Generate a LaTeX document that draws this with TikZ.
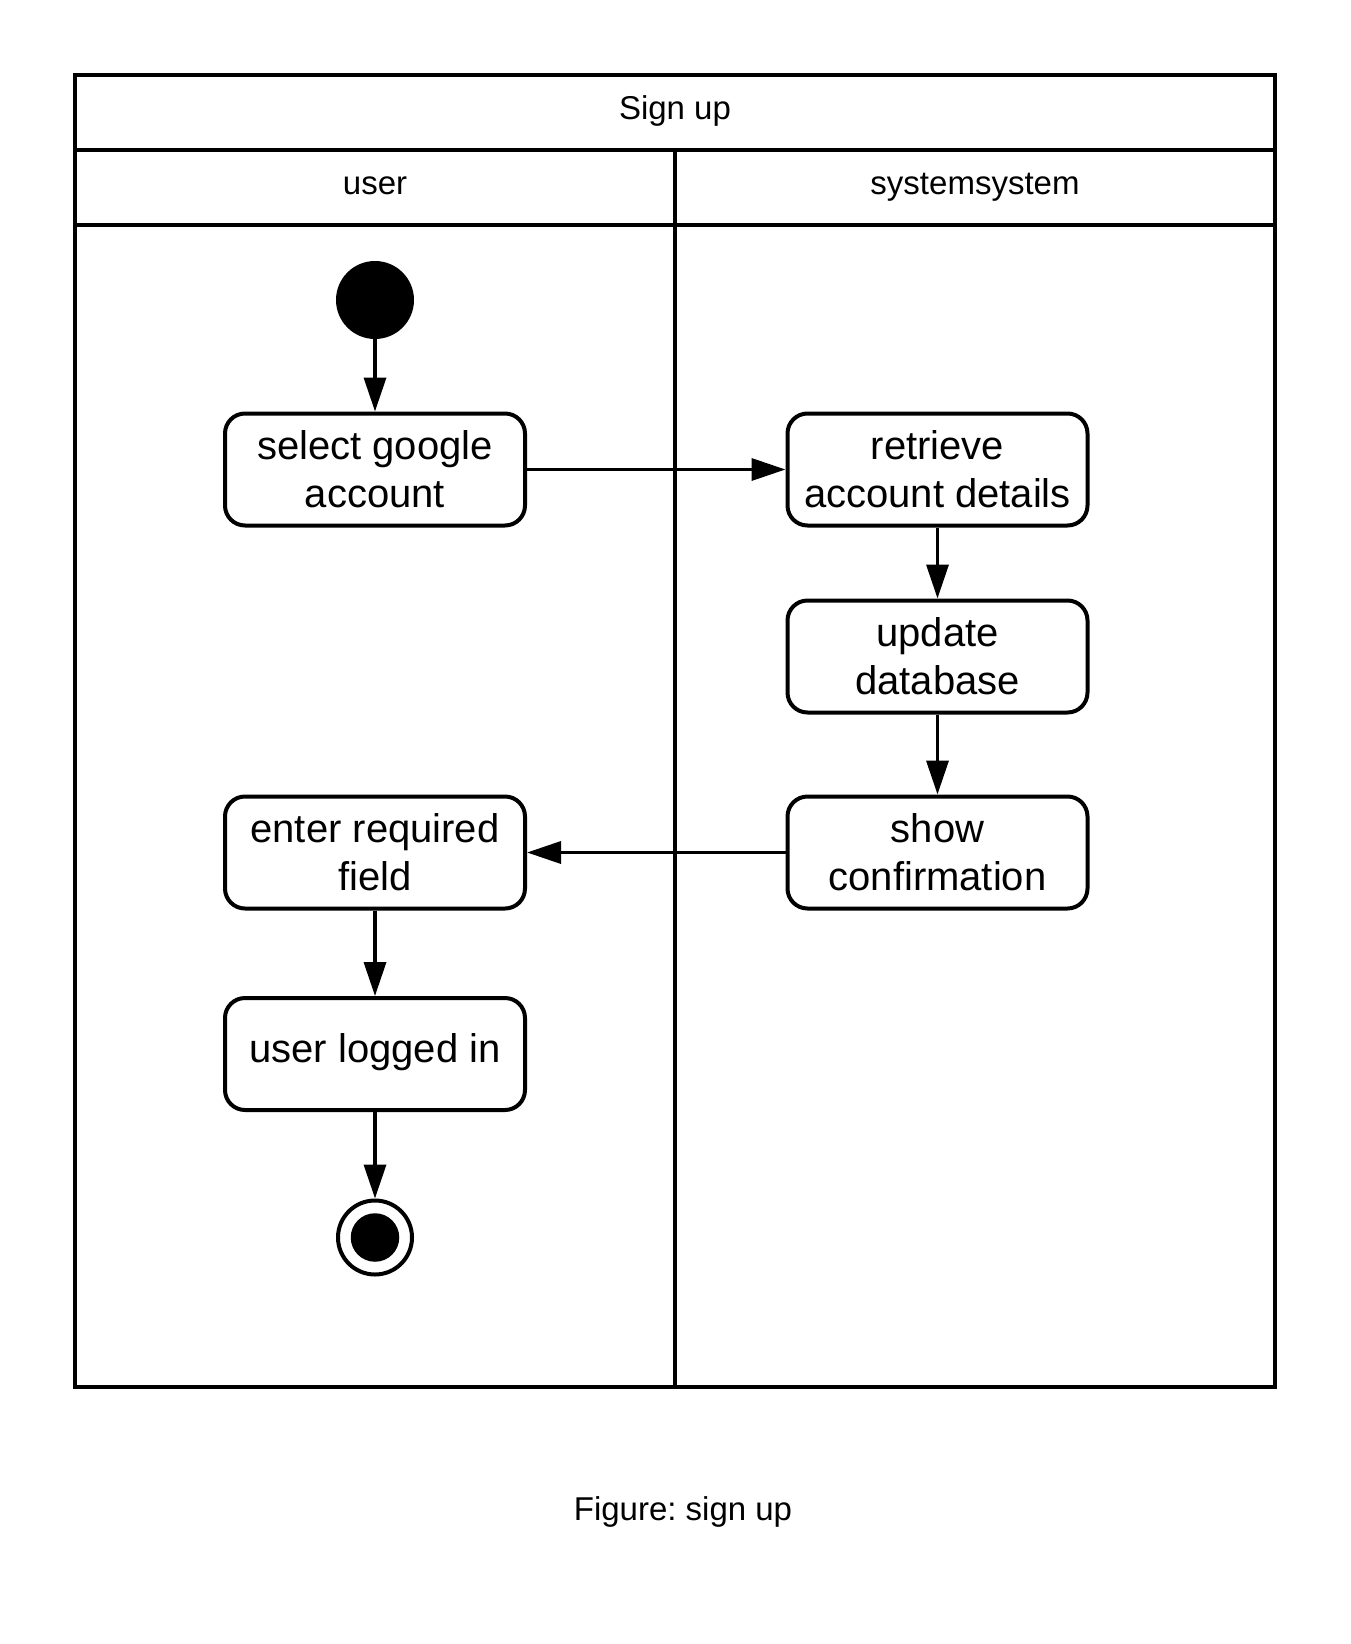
\documentclass[tikz,border=0pt]{standalone}
\usepackage{fontspec}
\setmainfont{Liberation Sans}
\usetikzlibrary{arrows.meta}
\newcommand\lstr{\rule[-10.15pt]{0pt}{48pt}}
\newcommand\sstr{\rule[-16pt]{0pt}{48pt}}
\frenchspacing
\begin{document}
\begin{tikzpicture}[x=1pt,y=-1pt,
  frameline/.style={line width=4pt},
  actbox/.style={draw, line width=4pt, rounded corners=20pt, minimum width=300pt,
    minimum height=112pt, inner sep=0pt, align=center,
    font=\fontsize{40pt}{48pt}\selectfont},
  flow/.style={line width=3.5pt, -{Triangle[length=34pt,width=22pt]}},
  hdr/.style={font=\fontsize{33pt}{40pt}\selectfont, anchor=base, inner sep=0pt}
]
\useasboundingbox (0,0) rectangle (1350,1644);
% frame and swimlanes
\draw[frameline] (75,75) rectangle (1275,1387);
\draw[frameline] (75,150) -- (1275,150);
\draw[frameline] (75,225) -- (1275,225);
\draw[frameline] (675,150) -- (675,1387);
\node[hdr] (title) at (675,119.5) {Sign up};
\node[hdr] (laneU) at (375,194.5) {user};
\node[hdr] (laneS) at (975,194.5) {systemsystem};
% nodes
\node[circle, fill=black, minimum size=78pt, inner sep=0pt] (start) at (375,300) {};
\node[actbox] (sel) at (375,469.5) {\lstr select google\\\lstr account};
\node[actbox] (ret) at (937.5,469.5) {\lstr retrieve\\\lstr account details};
\node[actbox] (upd) at (937.5,656.5) {\lstr update\\\lstr database};
\node[actbox] (show) at (937.5,852.5) {\lstr show\\\lstr confirmation};
\node[actbox] (enter) at (375,852.5) {\lstr enter required\\\lstr field};
\node[actbox] (user) at (375,1054) {\sstr user logged in};
\node[circle, draw, line width=4pt, fill=white, minimum size=74pt, inner sep=0pt] (end) at (375,1237.5) {};
\node[circle, fill=black, minimum size=48.5pt, inner sep=0pt] (endin) at (375,1237.5) {};
% flows
\draw[flow] (start) -- (sel);
\draw[flow] (sel) -- (ret);
\draw[flow] (ret) -- (upd);
\draw[flow] (upd) -- (show);
\draw[flow] (show) -- (enter);
\draw[flow] (enter) -- (user);
\draw[flow] (user) -- (end);
% caption
\node[hdr] (caption) at (683,1520) {Figure: sign up};
\end{tikzpicture}
\end{document}
